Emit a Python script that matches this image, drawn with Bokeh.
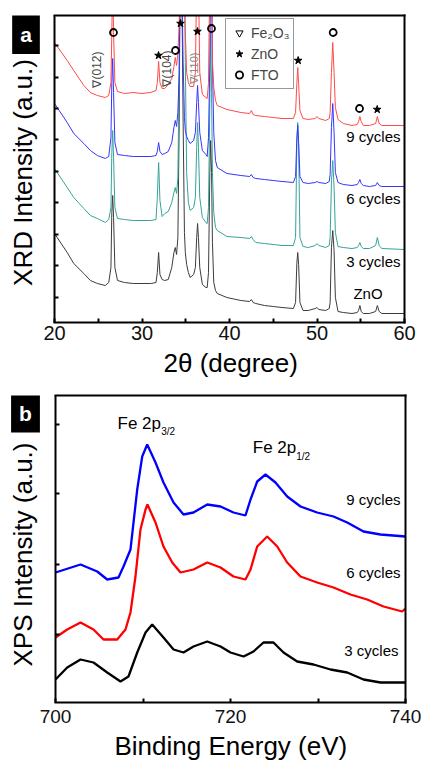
import math
from bokeh.plotting import figure
from bokeh.models import (Range1d, FixedTicker, Label, Legend, LegendItem, LinearAxis,
                          CustomJSTickFormatter, Title)
from bokeh.layouts import column
from bokeh.embed import file_html
from bokeh.resources import INLINE

FONT = "Liberation Sans"

# ---------------- XRD data (panel a), offset intensities in arbitrary units ----------------
two_theta = [20.0, 21.45, 22.2, 23.35, 24.1, 24.9, 25.8, 26.2,
             26.45, 26.55, 26.65, 26.75, 26.9, 27.2,
             28.0, 29.0, 30.0, 31.0, 31.6,
             31.75, 31.9, 32.05, 32.3,
             32.6, 33.0, 33.4, 33.65, 33.8, 33.95, 34.1,
             34.25, 34.35, 34.45, 34.55, 34.7, 34.85, 34.95, 35.1, 35.3,
             35.5, 35.9,
             36.1, 36.25, 36.35, 36.45, 36.6, 36.9, 37.3,
             37.45, 37.6, 37.75, 37.85, 37.95, 38.05, 38.2, 38.4, 38.6, 39.7,
             41.3, 42.3, 42.5, 42.7, 43.0, 44.0, 45.0, 46.0, 47.3, 47.55,
             47.7, 47.8, 47.9, 48.05, 48.4,
             49.0, 49.8, 50.0, 50.2, 51.0, 51.4,
             51.5, 51.65, 51.8, 51.95, 52.1, 52.4,
             53.0, 54.0, 54.6, 54.75, 54.9, 55.05, 55.3, 56.0,
             56.7, 56.9, 57.1, 57.4, 60.0]

xrd_9cyc = [280, 262, 252, 237, 230, 227, 225, 227,
            240, 290, 345, 290, 240, 231,
            229, 230, 229, 230, 232,
            240, 261, 240, 234,
            234, 238, 244, 256, 265, 257, 268,
            300, 345, 345, 345, 345, 345, 290, 250, 240,
            236, 236,
            250, 345, 345, 345, 250, 228, 225,
            224, 240, 345, 345, 345, 260, 235, 222, 217, 213,
            210, 209, 212, 208, 207, 206, 205, 204, 204, 210,
            240, 255, 238, 212, 204,
            203, 204, 206, 204, 202, 204,
            210, 250, 280, 250, 215, 203,
            199, 197, 198, 201, 206, 201, 197, 197,
            199, 206, 199, 197, 197]

xrd_6cyc = [219, 200, 189, 179, 172, 167, 164, 166,
            185, 240, 264, 230, 180, 168,
            167, 166, 166, 166, 167,
            171, 180, 171, 168,
            169, 171, 180, 195, 202, 196, 210,
            250, 345, 345, 345, 260, 205, 192, 186, 182,
            179, 182,
            190, 220, 237, 220, 190, 172, 168,
            166, 185, 260, 345, 345, 260, 190, 162, 155, 149,
            147, 146, 148, 145, 144, 143, 142, 141, 140, 146,
            185, 197, 180, 146, 140,
            139, 140, 141, 140, 139, 141,
            148, 195, 219, 190, 150, 140,
            138, 137, 138, 140, 143, 139, 137, 136,
            137, 140, 137, 136, 136]

xrd_3cyc = [154, 135, 125, 114, 107, 104, 100, 103,
            115, 170, 192, 165, 115, 104,
            103, 102, 102, 102, 103,
            125, 160, 122, 106,
            109, 111, 120, 130, 135, 129, 145,
            250, 345, 345, 345, 345, 345, 260, 150, 120,
            112, 115,
            125, 175, 200, 175, 125, 105, 100,
            99, 115, 220, 290, 230, 150, 110, 95, 92, 86,
            85, 84, 86, 83, 80, 79, 78, 77, 77, 85,
            180, 200, 175, 85, 76,
            75, 77, 79, 77, 75, 77,
            85, 140, 162, 135, 90, 76,
            75, 74, 75, 77, 80, 76, 74, 74,
            77, 85, 77, 74, 73]

xrd_zno = [89, 70, 59, 49, 42, 39, 37, 40,
           55, 110, 127, 105, 55, 42,
           40, 39, 39, 39, 40,
           50, 70, 48, 43,
           42, 43, 55, 70, 75, 68, 85,
           200, 340, 340, 340, 200, 90, 70, 58, 50,
           45, 48,
           55, 85, 99, 85, 55, 38, 35,
           35, 50, 150, 182, 150, 80, 40, 32, 29, 25,
           22, 21, 23, 20, 19, 17, 16, 15, 14, 20,
           60, 70, 58, 20, 12,
           12, 14, 15, 13, 12, 14,
           20, 75, 92, 72, 25, 11,
           10, 9, 10, 12, 17, 11, 9, 9,
           11, 17, 11, 9, 9]

for arr in (xrd_9cyc, xrd_6cyc, xrd_3cyc, xrd_zno):
    assert len(arr) == len(two_theta), len(arr)

# phase marker positions (panel a)
star_x = [31.89, 34.4, 36.34, 47.85, 56.88]
star_y = [267, 299, 291, 262, 213]
circ_x = [26.74, 33.83, 37.94, 51.85, 54.86]
circ_y = [290, 272, 294, 290, 214]

# ---------------- XPS data (panel b) ----------------
be_9cyc = [700.0, 702.86, 704.77, 705.91, 707.2, 707.77, 708.57, 709.34, 709.91, 710.48,
           711.43, 712.34, 713.49, 714.63, 715.77, 717.34, 718.86, 720.34, 721.71, 722.29,
           723.05, 724.0, 725.14, 726.48, 728.0, 729.9, 731.77, 733.34, 735.2, 737.14, 740.0]
xps_9cyc = [130, 138, 131, 123, 125, 136, 153, 213, 246, 258,
            240, 220, 200, 188, 190, 198, 196, 190, 187, 203,
            221, 228, 220, 206, 196, 190, 186, 180, 171, 168, 166]

be_6cyc = [700.0, 701.34, 702.86, 704.34, 705.49, 707.05, 708.0, 708.57, 709.14, 709.71,
           710.29, 710.51, 711.43, 712.34, 713.34, 714.29, 715.77, 717.34, 718.86, 720.34,
           721.71, 722.29, 723.05, 724.19, 725.34, 726.48, 728.0, 729.9, 731.77, 733.71,
           735.62, 737.49, 739.62, 740.0]
xps_6cyc = [65, 73, 80, 73, 63, 63, 73, 90, 126, 173,
            193, 198, 180, 156, 140, 130, 133, 140, 135, 126,
            123, 133, 156, 166, 156, 140, 126, 120, 115, 108,
            103, 96, 91, 94]

be_3cyc = [700.0, 701.34, 702.86, 704.34, 705.91, 707.43, 708.34, 709.34, 710.29, 711.05,
           712.34, 713.49, 714.63, 715.77, 717.34, 718.86, 720.0, 721.49, 722.63, 723.77,
           724.91, 726.06, 727.62, 729.49, 731.43, 733.34, 735.2, 737.14, 740.0]
xps_3cyc = [23, 35, 43, 40, 30, 21, 26, 50, 70, 78,
            65, 53, 50, 56, 61, 56, 50, 46, 51, 60,
            60, 50, 41, 38, 33, 30, 23, 20, 20]

assert len(be_9cyc) == len(xps_9cyc)
assert len(be_6cyc) == len(xps_6cyc)
assert len(be_3cyc) == len(xps_3cyc)

BLANK = "return ''"


def txt(p, x, y, t, size, color="black", align="left", baseline="middle",
        angle=0.0, style="normal", **kw):
    p.add_layout(Label(x=x, y=y, text=t, text_font=FONT, text_font_size=f"{size}px",
                       text_color=color, text_align=align, text_baseline=baseline,
                       angle=angle, text_font_style=style, **kw))


def frame_box(p, x0, x1, y0, y1, xticks, xminor, yticks, tick_font, standoff):
    """Axes drawn only over the data window [x0,x1]x[y0,y1]; the plot area extends
    further left so the panel tag and y title can sit there."""
    p.grid.visible = False
    p.outline_line_color = None
    p.background_fill_color = "white"
    p.border_fill_color = "white"
    xa = p.xaxis[0]
    xa.ticker = FixedTicker(ticks=xticks, minor_ticks=xminor)
    xa.bounds = (x0, x1)
    xa.major_label_text_font = FONT
    xa.major_label_text_font_size = tick_font
    xa.major_label_text_color = "#111111"
    xa.major_label_standoff = standoff
    ya = p.yaxis[0]
    ya.ticker = FixedTicker(ticks=yticks, minor_ticks=[])
    ya.formatter = CustomJSTickFormatter(code=BLANK)
    ya.fixed_location = x0
    ya.bounds = (y0, y1)
    ya.major_label_standoff = 0
    for ax in (xa, ya):
        ax.axis_line_width = 2
        ax.axis_line_cap = "square"
        ax.major_tick_in = 4
        ax.major_tick_out = 0
        ax.minor_tick_in = 4
        ax.minor_tick_out = 0
        ax.major_tick_line_width = 2
        ax.minor_tick_line_width = 2
    ya.minor_tick_line_color = None
    top = LinearAxis(ticker=FixedTicker(ticks=[], minor_ticks=[]),
                     formatter=CustomJSTickFormatter(code=BLANK), bounds=(x0, x1),
                     axis_line_width=2, axis_line_cap="square",
                     major_tick_line_color=None, minor_tick_line_color=None,
                     major_label_standoff=0)
    right = LinearAxis(ticker=FixedTicker(ticks=[], minor_ticks=[]),
                       formatter=CustomJSTickFormatter(code=BLANK), bounds=(y0, y1),
                       axis_line_width=2, axis_line_cap="square",
                       major_tick_line_color=None, minor_tick_line_color=None,
                       major_label_standoff=0)
    p.add_layout(top, "above")
    p.add_layout(right, "right")


# ---------------- Panel a ----------------
pa = figure(frame_width=394, frame_height=307, min_border_left=10, min_border_right=19,
            min_border_top=15, min_border_bottom=58,
            x_range=Range1d(20 - 44 / 8.75, 60), y_range=Range1d(0, 307),
            output_backend="svg", toolbar_location=None, title=None)
frame_box(pa, 20, 60, 0, 307, [20, 30, 40, 50, 60], [25, 35, 45, 55],
          [25, 57, 88, 120, 151, 183, 214, 245, 277], "20px", 3)

pa.line(two_theta, xrd_zno, line_color="#3c3c3c", line_width=1)
pa.line(two_theta, xrd_3cyc, line_color="#36a39a", line_width=1)
pa.line(two_theta, xrd_6cyc, line_color="#3535ff", line_width=1)
pa.line(two_theta, xrd_9cyc, line_color="#ff4a4a", line_width=1)

r_star = pa.scatter(star_x, star_y, marker="star", size=8, fill_color="black",
                    line_color="black")
r_circ = pa.scatter(circ_x, circ_y, marker="circle", size=7, fill_color=None,
                    line_color="black", line_width=1.8)
r_tri = pa.scatter([float("nan")], [float("nan")], marker="inverted_triangle", size=9,
                   fill_color=None, line_color="black", line_width=1)

# rotated Fe2O3 reflections
txt(pa, 24.91, 253, "∇(012)", 12, color="#444444", align="center", angle=math.pi / 2)
txt(pa, 32.91, 254, "∇(104)", 12, color="#444444", align="center", angle=math.pi / 2)
txt(pa, 35.89, 254, "∇(110)", 11, color="#888888", align="center", angle=math.pi / 2)

# sample labels
txt(pa, 59.54, 186, "9 cycles", 15, align="right")
txt(pa, 59.54, 124, "6 cycles", 15, align="right")
txt(pa, 59.54, 61, "3 cycles", 15, align="right")
txt(pa, 55.83, 29, "ZnO", 15, align="center")

leg = Legend(items=[LegendItem(label="Fe₂O₃", renderers=[r_tri], index=0),
                    LegendItem(label="ZnO", renderers=[r_star], index=0),
                    LegendItem(label="FTO", renderers=[r_circ], index=0)],
             location=(215, 233), padding=4, spacing=2, margin=0,
             label_text_font=FONT, label_text_font_size="14px", label_height=19,
             glyph_height=19, glyph_width=18, label_standoff=3,
             border_line_color="#333333", border_line_width=1.5,
             background_fill_color="white", background_fill_alpha=1)
pa.add_layout(leg)

txt(pa, 16.457, 150, "XRD Intensity (a.u.)", 26, align="center", angle=math.pi / 2)
txt(pa, 16.743, 288, "a", 21, color="white", align="center", style="bold",
    background_fill_color="black", padding=8)
pa.add_layout(Title(text="2θ (degree)", align="left", offset=153, standoff=10,
                    vertical_align="top",
                    text_font=FONT, text_font_size="26px", text_font_style="normal",
                    text_color="black"), "below")

# ---------------- Panel b ----------------
pb = figure(frame_width=395, frame_height=307, min_border_left=10, min_border_right=18,
            min_border_top=11, min_border_bottom=63,
            x_range=Range1d(700 - 45 / 8.75, 740), y_range=Range1d(0, 307),
            output_backend="svg", toolbar_location=None, title=None)
frame_box(pb, 700, 740, 0, 307, [700, 720, 740], [710, 730], [68, 138, 209, 278],
          "19px", 7)

pb.line(be_3cyc, xps_3cyc, line_color="black", line_width=2.3)
pb.line(be_6cyc, xps_6cyc, line_color="#ff0000", line_width=2.3)
pb.line(be_9cyc, xps_9cyc, line_color="#0000ff", line_width=2.3)

txt(pb, 707.09, 279.5, "Fe 2p", 17)
txt(pb, 712.08, 271, "3/2", 10)
txt(pb, 722.55, 255.5, "Fe 2p", 17)
txt(pb, 727.51, 246.5, "1/2", 10)

txt(pb, 739.43, 203, "9 cycles", 15, align="right")
txt(pb, 739.43, 130, "6 cycles", 15, align="right")
txt(pb, 739.2, 52, "3 cycles", 15, align="right")

txt(pb, 696.286, 148, "XPS Intensity (a.u.)", 26, align="center", angle=math.pi / 2)
txt(pb, 696.571, 289.5, "b", 21, color="white", align="center", style="bold",
    background_fill_color="black", padding=8)
pb.add_layout(Title(text="Binding Energy (eV)", align="left", offset=104, standoff=10,
                    vertical_align="top",
                    text_font=FONT, text_font_size="26px", text_font_style="normal",
                    text_color="black"), "below")

layout = column(pa, pb, spacing=0)
open("out.html", "w").write(file_html(layout, INLINE))
